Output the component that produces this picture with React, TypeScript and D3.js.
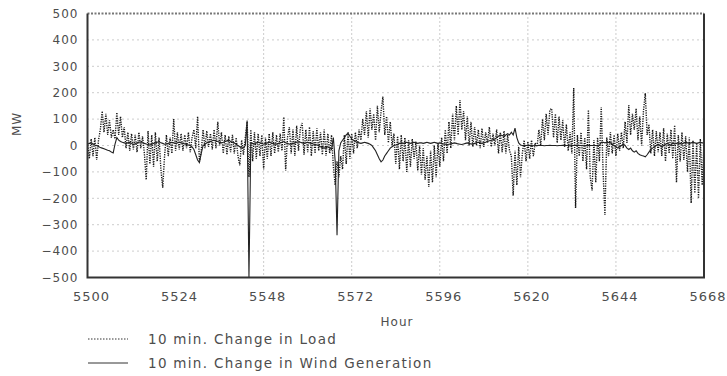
import * as d3 from "d3";
import { useEffect, useRef } from "react";

const WIDTH = 727;
const HEIGHT = 376;

// readings are every 30 min starting at hour 5500
const START_HOUR = 5500;
const STEP_HOURS = 0.5;

const hourTicks = [5500, 5524, 5548, 5572, 5596, 5620, 5644, 5668];
const gridHours = [5548, 5572, 5596, 5620, 5644];
const mwTicks = [-500, -400, -300, -200, -100, 0, 100, 200, 300, 400, 500];

const loadChange = [
  // 5500 - 5524
  10, -50, 25, -40, 30, -55, 20,
  60, 130, 50, 120, 40, 95,
  30, 60, 25,
  125, 40, 110, 30, 70,
  -10, 50, -20, 45, -15, 40, -25, 50, -10, 35, -30, -130,
  55, -70, 40, -80, 50, -60, 30, -90,
  -160, -40,
  40, -40, 30, -30,
  100,
  // 5524 - 5548
  -20, 50, -15, 45, -20, 40, -10, 50, -25, 30,
  60, -10, 110, -60, -20,
  60, -10, 55, -5, 45, -15, 60, -10, 90, 0, 50,
  -30, 40, -35, 35, -25, 40, -30, 30, -40, -75, 20, -35, 30,
  90, -120, 60,
  -60, 50, -50, 45, -40, 40,
  // 5548 - 5572
  -90, 30, -50, 45, -40,
  50, -30, 40, -25, 45, -20,
  108, -95, 30,
  70, -30, 60, -40, 75, -20, 65, 85, -35, 60, -25, 70, -40, 55, -30, 65, -20, 50, -35, 60, -40, 45, -30, 40,
  -80, -150, -60, -120, -40,
  -90, 40, -70, 50, -50,
  // 5572 - 5596
  45, -30, 50, -10, 60,
  20, 100, 40, 130, 30, 140, 60, 120, 20, 150, 50, 130, 185, 40, 110, 10, 90, 0,
  45, -70, 35, -90, 40, -60, 30, -100, 20, -80, 25, -50, 15, -95,
  0, -110, -10, -130, -40, -157, -20, -140, 0, -120, 10,
  // 5596 - 5620
  -80, 30, -60, 60, -30, 90, -10, 120, 20, 150, 40, 172, 60, 130, 20, 110, 0, 90,
  -5, 70, 0, 60, -10, 65, -5, 50, 10, 70, -5, 45, 0,
  60, -30, 50, -25, 55, -30, 40, -20,
  -40, -190, -20, -150, -5, -120, -30,
  20, -60,
  // 5620 - 5644
  15, -50, 20, -40, 10,
  -5, 60, 0, 100, 20, 120, 40, 135, 140, 30, 120, 10, 110, 20, 95, -5, 80,
  -20, 50, -30,
  218, -237,
  40, -40, 50, -60, 30, -90, 135, -120, -170, 20, -140, 30, -60,
  146, -100, -263,
  30, -40, 50, -30, 40,
  // 5644 - 5668
  -40, 45, -20, 50,
  -10, 90, 10, 153, 40, 120, 60, 140, 20, 110, 0, 130, 198, 40, 80,
  -30, 60, -40, 55, -25, 50, -40, 65, -60, 45, -30, 60, -50, 77,
  -140, 40, -60, 50, -55, 35,
  -100, 30, -218, 20, -180, 10, -200, 25, -150,
  10,
];

const windChange = [
  // 5500 - 5524
  5, 8, 10, 6, 2, 0, -4, -8, -10, -12, -15,
  -18, -20, -25, -28, 5, 30, 20,
  15, 12, 10, 8, 10, 12, 8, 5, 6, 10, 12, 14, 10, 8, 6, 4, 2, 5, 8, 10, 12, 15, 10, 8, 5, 6, 8, 10, 12, 10,
  // 5524 - 5548
  8, 10, 12, 10, 8, 6, 4, 2, 0, -5,
  -15, -35, -55, -65, -30,
  0, 5, 10, 12, 15, 18, 20, 18, 15, 12, 10, 12, 15, 18, 20, 15, 12, 10, 5, 0, -5, -10, -8, 0,
  95, -500, 10,
  8, 6, 10, 12, 10, 8,
  // 5548 - 5572
  5, 8, 10, 12, 10, 8, 6, 5, 8, 10, 12, 15, 10, 8, 5, 6, 8, 10, 12, 14, 12, 10, 8, 10, 12, 10, 8, 6, 4, 2, 0, -5, -8, -10, -8, -5, -10, -15,
  30, -60, -340, -20, 10,
  20, 30, 40, 47, 35,
  // 5572 - 5596
  25, 20, 15, 12, 10, 8, 10, 12, 10, 8, 5, 0, -10, -20, -35, -50, -62, -55, -40, -30, -20, -10, -5,
  0, 2, 5, 8, 10, 8, 10, 12, 10, 8, 10, 12, 10, 8, 10, 10, 8, 10, 12, 10, 8, 10, 12, 10, 8,
  // 5596 - 5620
  10, 8, 6, 5, 4, 5, 6, 8, 10, 8, 6, 5, 4, 6, 8, 10, 8, 6, 5, 8, 10, 12, 10, 8, 10, 12, 15, 18, 20, 22, 25,
  30, 35, 40, 38, 35, 40, 45, 40,
  50, 40, 66, 30, 10, 2, 0, 0, 0,
  // 5620 - 5644
  0, 1, 0, -1, 0, 0, 1, 0, 0, -1, 0, 0, 1, 0, 0, 0, -1, 0, 0, 1,
  0, 0, 0, -1, 0, 0, 1, 0, 0, 0, -1, 0, 0, 1, 0, 0, 0, 0, -1, 0,
  12, 12, 10, 12, 12, 10, 5, 0,
  // 5644 - 5668
  -5, -10, -5, 0, 5, 0, -10, -15, -10, -20, -25, -20, -30, -35, -38, -40, -43, -35, -25,
  -15, -10, -5, 0, 5, 0, -5, 0, 5, 8, 5, 0, 10, 5, 8, 10, 8, 5, 10, 12, 10, 8, 10, 12, 10, 8, 10, 12, 10,
  10,
];

const legendLabels = ["10 min. Change in Load", "10 min. Change in Wind Generation"];

const FONT = "'DejaVu Sans', sans-serif";
const TEXT_COLOR = "#4d4d4d";

const fmtMW = (d: number) => (d < 0 ? `\u2212${Math.abs(d)}` : `${d}`);

export default function App() {
  const svgRef = useRef<SVGSVGElement>(null);

  useEffect(() => {
    if (!svgRef.current) return;
    const svg = d3.select(svgRef.current);
    svg.selectAll("*").remove();

    const margin = { top: 13.5, right: 23, bottom: 98.5, left: 87.5 };
    const innerWidth = WIDTH - margin.left - margin.right;
    const innerHeight = HEIGHT - margin.top - margin.bottom;

    const x = d3.scaleLinear().domain([5500, 5668]).range([0, innerWidth]);
    const y = d3.scaleLinear().domain([-500, 500]).range([innerHeight, 0]);

    const g = svg.append("g").attr("transform", `translate(${margin.left},${margin.top})`);

    svg
      .append("defs")
      .append("clipPath")
      .attr("id", "plot-clip")
      .append("rect")
      .attr("width", innerWidth)
      .attr("height", innerHeight);

    // gridlines
    g.selectAll(".hgrid")
      .data(mwTicks.filter((d) => d > -500 && d < 500))
      .enter()
      .append("line")
      .attr("x1", 0)
      .attr("x2", innerWidth)
      .attr("y1", (d) => y(d))
      .attr("y2", (d) => y(d))
      .attr("stroke", "#999")
      .attr("stroke-width", 1)
      .attr("stroke-dasharray", "1 4");

    g.selectAll(".vgrid")
      .data(gridHours)
      .enter()
      .append("line")
      .attr("x1", (d) => x(d))
      .attr("x2", (d) => x(d))
      .attr("y1", 0)
      .attr("y2", innerHeight)
      .attr("stroke", "#999")
      .attr("stroke-width", 1)
      .attr("stroke-dasharray", "1 3");

    const hourAt = (i: number) => START_HOUR + i * STEP_HOURS;

    const line = d3
      .line<number>()
      .x((_, i) => x(hourAt(i)))
      .y((d) => y(d));

    const plot = g.append("g").attr("clip-path", "url(#plot-clip)");

    plot
      .append("path")
      .datum(loadChange)
      .attr("d", line)
      .attr("fill", "none")
      .attr("stroke", "#161616")
      .attr("stroke-width", 1.4)
      .attr("stroke-dasharray", "1.2 1.2");

    plot
      .append("path")
      .datum(windChange)
      .attr("d", line)
      .attr("fill", "none")
      .attr("stroke", "#222")
      .attr("stroke-width", 1.1);

    // frame
    g.append("line")
      .attr("x1", 0)
      .attr("x2", innerWidth)
      .attr("y1", 0)
      .attr("y2", 0)
      .attr("stroke", "#777")
      .attr("stroke-width", 2)
      .attr("stroke-dasharray", "2 1.5");
    g.append("path")
      .attr("d", `M0,0V${innerHeight}H${innerWidth}V0`)
      .attr("fill", "none")
      .attr("stroke", "#333")
      .attr("stroke-width", 2);

    // y tick labels
    g.selectAll(".ylab")
      .data(mwTicks)
      .enter()
      .append("text")
      .attr("x", -9)
      .attr("y", (d) => y(d))
      .attr("dy", "0.35em")
      .attr("text-anchor", "end")
      .attr("font-family", FONT)
      .attr("font-size", 12)
      .attr("letter-spacing", 1)
      .attr("fill", TEXT_COLOR)
      .text(fmtMW);

    // x tick labels
    g.selectAll(".xlab")
      .data(hourTicks)
      .enter()
      .append("text")
      .attr("x", (d) => x(d) + 4)
      .attr("y", innerHeight + 19)
      .attr("dy", "0.35em")
      .attr("text-anchor", "middle")
      .attr("font-family", FONT)
      .attr("font-size", 13)
      .attr("letter-spacing", 1)
      .attr("fill", TEXT_COLOR)
      .text((d) => `${d}`);

    svg
      .append("text")
      .attr("transform", "translate(17,124) rotate(-90)")
      .attr("text-anchor", "middle")
      .attr("dy", "0.35em")
      .attr("font-family", FONT)
      .attr("font-size", 12)
      .attr("letter-spacing", 1)
      .attr("fill", TEXT_COLOR)
      .text("MW");

    svg
      .append("text")
      .attr("x", 397)
      .attr("y", 322)
      .attr("dy", "0.35em")
      .attr("text-anchor", "middle")
      .attr("font-family", FONT)
      .attr("font-size", 12)
      .attr("letter-spacing", 1)
      .attr("fill", TEXT_COLOR)
      .text("Hour");

    // legend
    const legend = svg
      .selectAll(".legend")
      .data(legendLabels)
      .enter()
      .append("g")
      .attr("transform", (_, i) => `translate(88,${339 + i * 24})`);

    legend
      .append("line")
      .attr("x1", 0)
      .attr("x2", 40)
      .attr("stroke", "#333")
      .attr("stroke-width", 1)
      .attr("stroke-dasharray", (_, i) => (i === 0 ? "1.5 1.5" : null));

    legend
      .append("text")
      .attr("x", 60)
      .attr("dy", "0.35em")
      .attr("font-family", FONT)
      .attr("font-size", 13.5)
      .attr("letter-spacing", 1.3)
      .attr("fill", TEXT_COLOR)
      .text((d) => d);
  }, []);

  return (
    <svg
      ref={svgRef}
      width={WIDTH}
      height={HEIGHT}
      style={{ position: "absolute", left: 0, top: 0, background: "#fff" }}
    />
  );
}
